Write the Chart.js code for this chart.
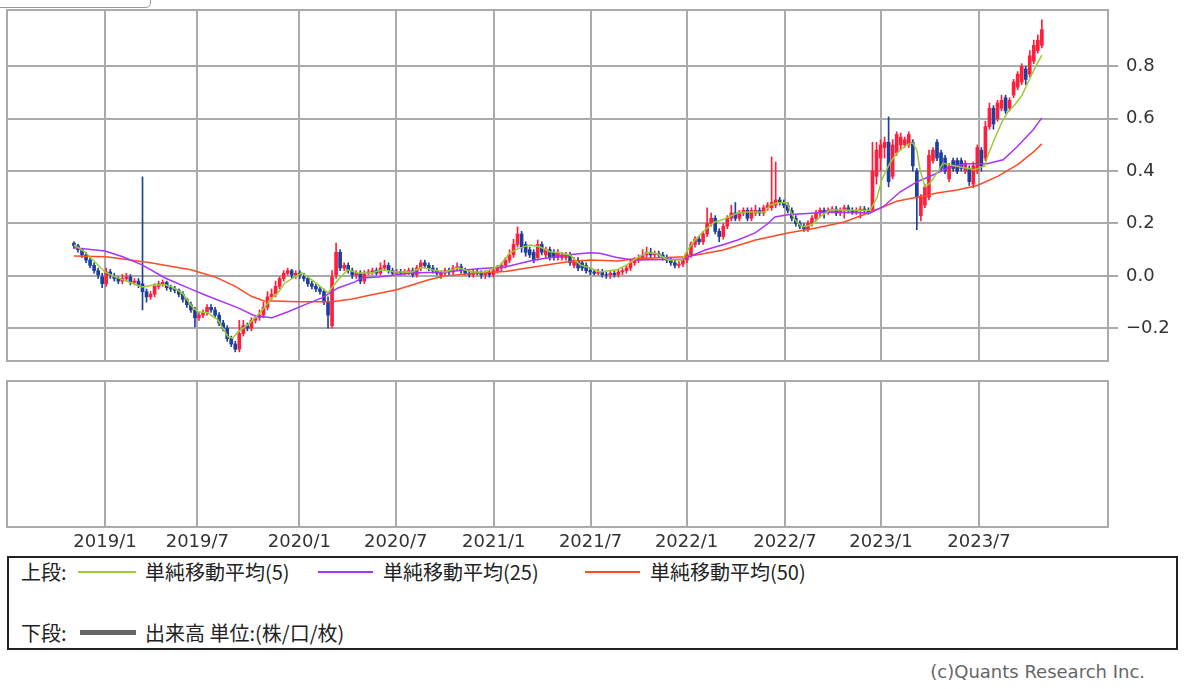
<!DOCTYPE html>
<html lang="ja">
<head>
<meta charset="utf-8">
<script src="https://cdn.jsdelivr.net/npm/chart.js@4.4.0/dist/chart.umd.min.js"></script>
<style>
  body { margin: 0; background: #fff; width: 1200px; height: 689px; overflow: hidden; position: relative; font-family: "DejaVu Sans", sans-serif; }
  #tab { position: absolute; left: -2px; top: -20px; width: 151px; height: 26px; border: 1px solid #999; border-radius: 0 0 5px 0; }
  #priceWrap { position: absolute; left: 0; top: 0; }
  #volWrap { position: absolute; left: 0; top: 372px; }
  #legend { position: absolute; left: 7px; top: 556px; width: 1167px; height: 90px; border: 2px solid #222;
            font-family: "Noto Sans CJK JP", sans-serif; font-size: 20px; color: #222; }
  #legend span { position: absolute; line-height: 24px; white-space: nowrap; }
  #legend i { position: absolute; display: block; }
  #copy { position: absolute; right: 55px; top: 661px; font-size: 18px; color: #666; }
</style>
</head>
<body>
<div id="tab"></div>
<div id="priceWrap"><canvas id="priceChart" width="1200" height="372"></canvas></div>
<div id="volWrap"><canvas id="volChart" width="1200" height="184"></canvas></div>
<div id="legend">
  <span style="left:12px; top:2px;">上段:</span>
  <i style="left:69px; top:13px; width:58px; height:2px; background:#99cc33;"></i>
  <span style="left:136px; top:2px;">単純移動平均(5)</span>
  <i style="left:309px; top:13px; width:55px; height:2px; background:#a633ff;"></i>
  <span style="left:374px; top:2px;">単純移動平均(25)</span>
  <i style="left:576px; top:13px; width:55px; height:2px; background:#ff4a26;"></i>
  <span style="left:641px; top:2px;">単純移動平均(50)</span>
  <span style="left:12px; top:63px;">下段:</span>
  <i style="left:71px; top:72px; width:56px; height:5px; background:#666;"></i>
  <span style="left:136px; top:63px;">出来高 単位:(株/口/枚)</span>
</div>
<div id="copy">(c)Quants Research Inc.</div>
<script>
// candles, one per period, x = index
const opens = [0.125, 0.115, 0.10, 0.08, 0.06, 0.04, 0.02, 0.0, -0.03, 0.015,
  0.0, -0.01, -0.02, -0.01, 0.0, -0.025, -0.02, -0.03, -0.06, -0.08,
  -0.07, -0.04, -0.03, -0.025, -0.045, -0.05, -0.055, -0.07, -0.09, -0.11,
  -0.13, -0.16, -0.15, -0.14, -0.12, -0.13, -0.15, -0.18, -0.2, -0.24,
  -0.26, -0.28, -0.22, -0.19, -0.2, -0.17, -0.16, -0.15, -0.12, -0.08,
  -0.07, -0.04, -0.01, 0.01, 0.02, 0.0, 0.01, 0.0, -0.01, -0.03,
  -0.04, -0.05, -0.06, -0.1, -0.19, 0.0, 0.09, 0.03, 0.04, 0.02,
  0.0, 0.01, -0.02, 0.01, 0.015, 0.02, 0.01, 0.03, 0.04, 0.02,
  0.01, 0.015, 0.01, 0.015, 0.02, 0.005, 0.03, 0.05, 0.04, 0.03,
  0.02, 0.0, 0.01, 0.02, 0.015, 0.03, 0.035, 0.02, 0.01, 0.005,
  0.015, 0.01, 0.0, 0.01, 0.005, 0.02, 0.03, 0.04, 0.06, 0.08,
  0.12, 0.16, 0.12, 0.10, 0.09, 0.07, 0.12, 0.08, 0.10, 0.09,
  0.07, 0.07, 0.07, 0.08, 0.04, 0.06, 0.05, 0.04, 0.02, 0.015,
  0.01, 0.015, 0.005, 0.0, 0.01, 0.005, 0.015, 0.02, 0.03, 0.05,
  0.06, 0.07, 0.08, 0.09, 0.08, 0.085, 0.08, 0.07, 0.06, 0.05,
  0.04, 0.045, 0.06, 0.08, 0.12, 0.14, 0.13, 0.16, 0.2, 0.22,
  0.17, 0.15, 0.19, 0.22, 0.24, 0.22, 0.24, 0.25, 0.22, 0.24,
  0.25, 0.24, 0.26, 0.26, 0.27, 0.29, 0.28, 0.27, 0.25, 0.22,
  0.2, 0.19, 0.18, 0.2, 0.22, 0.24, 0.25, 0.245, 0.25, 0.255,
  0.24, 0.25, 0.26, 0.25, 0.245, 0.25, 0.255, 0.25, 0.25, 0.38,
  0.45, 0.49, 0.51, 0.38, 0.47, 0.50, 0.50, 0.50, 0.51, 0.40,
  0.23, 0.27, 0.30, 0.44, 0.51, 0.47, 0.45, 0.37, 0.44, 0.44,
  0.44, 0.40, 0.41, 0.35, 0.40, 0.48, 0.45, 0.57, 0.64, 0.60,
  0.64, 0.68, 0.64, 0.69, 0.72, 0.74, 0.79, 0.77, 0.82, 0.86,
  0.88];
const highs = [0.13, 0.12, 0.105, 0.09, 0.07, 0.05, 0.03, 0.01, 0.03, 0.025,
  0.01, 0.0, 0.005, 0.01, 0.005, -0.01, -0.01, 0.378, -0.05, -0.06,
  -0.03, -0.02, -0.015, -0.02, -0.035, -0.04, -0.05, -0.06, -0.085, -0.1,
  -0.12, -0.14, -0.13, -0.11, -0.11, -0.12, -0.14, -0.17, -0.19, -0.23,
  -0.25, -0.17, -0.17, -0.18, -0.16, -0.15, -0.13, -0.1, -0.06, -0.05,
  -0.02, 0.0, 0.02, 0.03, 0.025, 0.02, 0.02, 0.01, 0.0, -0.02,
  -0.03, -0.04, -0.05, -0.08, 0.02, 0.125, 0.1, 0.05, 0.05, 0.03,
  0.02, 0.02, 0.02, 0.025, 0.03, 0.03, 0.05, 0.06, 0.05, 0.03,
  0.025, 0.025, 0.025, 0.03, 0.03, 0.04, 0.06, 0.06, 0.05, 0.04,
  0.03, 0.02, 0.03, 0.03, 0.04, 0.05, 0.045, 0.03, 0.02, 0.025,
  0.025, 0.02, 0.02, 0.02, 0.03, 0.04, 0.05, 0.07, 0.1, 0.14,
  0.187, 0.17, 0.13, 0.11, 0.1, 0.137, 0.13, 0.11, 0.11, 0.1,
  0.1, 0.09, 0.09, 0.09, 0.07, 0.07, 0.06, 0.05, 0.03, 0.025,
  0.025, 0.025, 0.015, 0.02, 0.02, 0.025, 0.03, 0.04, 0.06, 0.07,
  0.08, 0.1, 0.11, 0.105, 0.095, 0.095, 0.09, 0.08, 0.07, 0.06,
  0.055, 0.07, 0.09, 0.13, 0.15, 0.15, 0.17, 0.26, 0.24, 0.23,
  0.18, 0.2, 0.23, 0.27, 0.28, 0.25, 0.26, 0.26, 0.26, 0.27,
  0.26, 0.27, 0.28, 0.454, 0.435, 0.3, 0.29, 0.28, 0.26, 0.23,
  0.21, 0.2, 0.21, 0.23, 0.25, 0.26, 0.26, 0.26, 0.265, 0.265,
  0.26, 0.27, 0.27, 0.26, 0.26, 0.265, 0.265, 0.26, 0.51, 0.51,
  0.52, 0.53, 0.607, 0.52, 0.55, 0.545, 0.53, 0.55, 0.52, 0.41,
  0.31, 0.35, 0.48, 0.49, 0.52, 0.48, 0.46, 0.43, 0.45, 0.45,
  0.45, 0.44, 0.42, 0.435, 0.50, 0.49, 0.59, 0.66, 0.65, 0.67,
  0.69, 0.69, 0.68, 0.75, 0.78, 0.81, 0.80, 0.86, 0.90, 0.92,
  0.977];
const lows = [0.105, 0.09, 0.07, 0.05, 0.03, 0.01, -0.01, -0.045, -0.04, -0.01,
  -0.02, -0.03, -0.03, -0.02, -0.035, -0.035, -0.045, -0.13, -0.1, -0.09,
  -0.08, -0.05, -0.04, -0.055, -0.06, -0.065, -0.08, -0.1, -0.12, -0.14,
  -0.195, -0.17, -0.16, -0.15, -0.14, -0.16, -0.19, -0.21, -0.25, -0.27,
  -0.29, -0.29, -0.23, -0.21, -0.21, -0.18, -0.17, -0.16, -0.13, -0.09,
  -0.08, -0.05, -0.02, 0.0, -0.01, -0.01, -0.01, -0.02, -0.04, -0.05,
  -0.06, -0.07, -0.11, -0.2, -0.2, -0.01, 0.02, 0.02, 0.01, -0.01,
  -0.01, -0.03, -0.03, 0.0, 0.005, 0.0, 0.0, 0.02, 0.01, 0.0,
  0.0, 0.0, 0.0, 0.005, -0.005, -0.005, 0.02, 0.03, 0.02, 0.01,
  0.0, -0.01, 0.0, 0.005, 0.005, 0.02, 0.01, 0.0, -0.005, -0.005,
  0.0, -0.01, -0.01, -0.005, -0.005, 0.01, 0.02, 0.03, 0.05, 0.07,
  0.11, 0.09, 0.075, 0.07, 0.05, 0.06, 0.08, 0.07, 0.06, 0.06,
  0.06, 0.06, 0.06, 0.04, 0.03, 0.02, 0.02, 0.01, 0.005, 0.0,
  0.0, -0.005, -0.01, -0.01, -0.005, -0.005, 0.005, 0.01, 0.02, 0.04,
  0.05, 0.06, 0.07, 0.07, 0.07, 0.07, 0.06, 0.05, 0.04, 0.03,
  0.03, 0.035, 0.05, 0.07, 0.11, 0.12, 0.12, 0.15, 0.19, 0.16,
  0.13, 0.14, 0.18, 0.21, 0.21, 0.21, 0.23, 0.21, 0.21, 0.23,
  0.23, 0.23, 0.25, 0.25, 0.26, 0.27, 0.26, 0.24, 0.21, 0.19,
  0.18, 0.17, 0.17, 0.19, 0.21, 0.225, 0.22, 0.235, 0.24, 0.23,
  0.23, 0.22, 0.24, 0.235, 0.235, 0.22, 0.24, 0.235, 0.245, 0.35,
  0.40, 0.45, 0.34, 0.37, 0.46, 0.48, 0.49, 0.49, 0.40, 0.176,
  0.21, 0.26, 0.29, 0.43, 0.44, 0.40, 0.39, 0.36, 0.40, 0.39,
  0.40, 0.39, 0.345, 0.336, 0.39, 0.40, 0.44, 0.56, 0.56, 0.59,
  0.63, 0.62, 0.63, 0.68, 0.71, 0.73, 0.73, 0.76, 0.81, 0.85,
  0.87];
const closes = [0.115, 0.10, 0.08, 0.06, 0.04, 0.02, 0.0, -0.03, 0.015, 0.0,
  -0.01, -0.02, -0.01, 0.0, -0.025, -0.02, -0.035, -0.06, -0.08, -0.07,
  -0.04, -0.03, -0.025, -0.045, -0.05, -0.055, -0.07, -0.09, -0.11, -0.13,
  -0.16, -0.15, -0.14, -0.12, -0.13, -0.15, -0.18, -0.2, -0.24, -0.26,
  -0.28, -0.22, -0.19, -0.2, -0.17, -0.16, -0.15, -0.12, -0.08, -0.07,
  -0.04, -0.01, 0.01, 0.02, 0.0, 0.01, 0.0, -0.01, -0.03, -0.04,
  -0.05, -0.06, -0.1, -0.15, 0.0, 0.09, 0.03, 0.04, 0.02, 0.0,
  0.01, -0.02, 0.01, 0.015, 0.02, 0.01, 0.03, 0.04, 0.02, 0.01,
  0.015, 0.01, 0.015, 0.02, 0.005, 0.03, 0.05, 0.04, 0.03, 0.02,
  0.01, 0.01, 0.02, 0.015, 0.03, 0.035, 0.02, 0.01, 0.005, 0.015,
  0.01, 0.0, 0.01, 0.005, 0.02, 0.03, 0.04, 0.06, 0.08, 0.12,
  0.16, 0.11, 0.09, 0.08, 0.06, 0.12, 0.09, 0.10, 0.07, 0.07,
  0.09, 0.08, 0.08, 0.05, 0.06, 0.03, 0.03, 0.02, 0.015, 0.01,
  0.015, 0.005, 0.0, 0.01, 0.005, 0.015, 0.02, 0.03, 0.05, 0.06,
  0.07, 0.08, 0.09, 0.08, 0.085, 0.08, 0.07, 0.06, 0.05, 0.04,
  0.045, 0.06, 0.08, 0.12, 0.14, 0.13, 0.16, 0.2, 0.22, 0.17,
  0.15, 0.19, 0.22, 0.24, 0.22, 0.24, 0.25, 0.22, 0.25, 0.25,
  0.24, 0.26, 0.27, 0.28, 0.29, 0.28, 0.27, 0.25, 0.22, 0.2,
  0.19, 0.18, 0.2, 0.22, 0.24, 0.25, 0.245, 0.25, 0.255, 0.24,
  0.25, 0.26, 0.25, 0.245, 0.25, 0.255, 0.25, 0.245, 0.40, 0.48,
  0.50, 0.51, 0.36, 0.50, 0.54, 0.53, 0.52, 0.54, 0.42, 0.30,
  0.30, 0.34, 0.46, 0.48, 0.45, 0.41, 0.40, 0.42, 0.41, 0.40,
  0.41, 0.43, 0.36, 0.42, 0.49, 0.42, 0.57, 0.64, 0.58, 0.66,
  0.67, 0.63, 0.67, 0.74, 0.77, 0.80, 0.75, 0.84, 0.88, 0.90,
  0.94];

// moving averages (x = candle index)
const ma5Idx = [0, 2.7, 5.2, 7.7, 10.2, 14.4, 16.9, 20.1, 22.6, 24.3, 26.8, 29.3, 30.7, 33.2, 35.7,
  38.2, 39.4, 40.7, 43.1, 45.6, 47.4, 49.1, 50.6, 52.3, 54.8, 56.5, 59, 61.5, 63, 65.5,
  67.9, 70.4, 73.9, 76.4, 79.6, 83.8, 86.3, 88.8, 92, 95.2, 98.7, 101.9, 105.6, 108.1, 110.6,
  113.1, 115.5, 118, 120.5, 123, 125.5, 127.9, 130.4, 134.6, 137.1, 139.6, 142.1, 144.6, 147.3, 150.8,
  152.2, 154, 156.5, 158.9, 160.7, 164.6, 167.1, 171.3, 172.6, 174.6, 176.8, 177.5, 178.8, 180.5, 183,
  185, 187.5, 197.4, 199.1, 200.3, 202.3, 204.1, 206.5, 208, 209, 209.8, 211, 212.3, 214, 215.5,
  219.7, 223.4, 225.9, 226.6, 228.4, 230.1, 231.6, 233.3, 235.1, 236.6, 238.3, 240];
const ma5Val = [0.118, 0.092, 0.053, 0.015, -0.004, -0.027, -0.042, -0.034, -0.034, -0.042, -0.065, -0.118, -0.137, -0.141, -0.168,
  -0.233, -0.237, -0.214, -0.187, -0.149, -0.118, -0.084, -0.065, -0.027, -0.004, 0.011, -0.015, -0.046, -0.065, -0.015,
  0.023, 0.011, 0.011, 0.023, 0.015, 0.015, 0.034, 0.023, 0.015, 0.031, 0.015, 0.015, 0.04, 0.088, 0.107,
  0.118, 0.111, 0.092, 0.088, 0.08, 0.042, 0.031, 0.015, 0.023, 0.042, 0.069, 0.088, 0.085, 0.061, 0.061,
  0.1, 0.137, 0.176, 0.206, 0.214, 0.24, 0.244, 0.244, 0.27, 0.279, 0.279, 0.252, 0.214, 0.187, 0.195,
  0.225, 0.252, 0.25, 0.298, 0.366, 0.43, 0.47, 0.5, 0.508, 0.48, 0.405, 0.34, 0.355, 0.393, 0.43,
  0.416, 0.405, 0.42, 0.46, 0.527, 0.588, 0.626, 0.653, 0.69, 0.74, 0.794, 0.843];

const ma25Idx = [0, 7.7, 12.1, 16.9, 22.6, 28.3, 32.5, 40.7, 44.9, 49.1, 53.1, 57.3, 61.5, 65.5, 69.7,
  71.4, 75.4, 83.8, 92, 100.2, 106.9, 113.8, 122.2, 127.9, 130.4, 134.6, 138.6, 151, 156.5, 160.7,
  164.6, 168.9, 172.1, 173.8, 177, 183.7, 186.7, 197.4, 200.6, 204.8, 209, 213, 217.2, 221.4, 226.4,
  230.4, 233.8, 237.8, 240];
const ma25Val = [0.107, 0.095, 0.073, 0.042, -0.008, -0.046, -0.073, -0.122, -0.153, -0.16, -0.137, -0.11, -0.084, -0.046, -0.023,
  -0.008, -0.004, 0.011, 0.015, 0.027, 0.034, 0.06, 0.08, 0.088, 0.086, 0.07, 0.061, 0.063, 0.099, 0.118,
  0.137, 0.164, 0.2, 0.225, 0.233, 0.24, 0.244, 0.24, 0.263, 0.32, 0.359, 0.385, 0.416, 0.428, 0.428,
  0.443, 0.492, 0.557, 0.603];

const ma50Idx = [0, 8, 14, 19, 25, 29, 35, 40, 44, 47, 56, 64, 69, 73, 80, 88, 92, 100, 107, 114,
  122, 128, 135, 139, 145, 152, 161, 169, 177, 184, 191, 197, 204, 209, 214, 219, 224, 229, 234, 238, 240];
const ma50Val = [0.076, 0.073, 0.061, 0.05, 0.034, 0.023, -0.004, -0.04, -0.078, -0.095, -0.099, -0.099, -0.088, -0.075, -0.053, -0.015, 0.0, 0.011, 0.017, 0.034,
  0.053, 0.061, 0.057, 0.065, 0.069, 0.073, 0.099, 0.137, 0.164, 0.183, 0.206, 0.24, 0.285, 0.3, 0.316, 0.328, 0.345, 0.38, 0.425, 0.474, 0.504];

// x-axis labels and where they fall on the candle index
const tickLabels = ['2019/1', '2019/7', '2020/1', '2020/7', '2021/1', '2021/7', '2022/1', '2022/7', '2023/1', '2023/7'];
const tickIdx = [7.7, 30.6, 55.9, 79.8, 104.1, 128.1, 151.9, 176.3, 200.1, 224.4];
const yTicks = [-0.2, 0, 0.2, 0.4, 0.6, 0.8];

const X_MIN = -16.6, X_MAX = 256.4;
const GRID = '#aaaaaa';
const UP = '#ff1f3a', DOWN = '#1f3f9f';
const axisFont = { family: 'DejaVu Sans', size: 18 };

const framePlugin = {
    id: 'frame',
    beforeDatasetsDraw(chart) {
        const a = chart.chartArea, c = chart.ctx;
        c.save();
        c.strokeStyle = GRID;
        c.lineWidth = 2;
        c.strokeRect(a.left, a.top, a.right - a.left, a.bottom - a.top);
        c.restore();
    }
};

const candleColor = ctx => closes[ctx.dataIndex] >= opens[ctx.dataIndex] ? UP : DOWN;
const toPts = (xs, ys) => xs.map((x, k) => ({ x: x, y: ys[k] }));

const xGrid = { color: GRID, lineWidth: 2, drawTicks: false, offset: false };

new Chart(document.getElementById('priceChart'), {
    type: 'bar',
    data: {
        datasets: [
            { type: 'line', label: '単純移動平均(5)', data: toPts(ma5Idx, ma5Val), borderColor: '#99cc33', borderWidth: 1.5, pointRadius: 0, order: 0 },
            { type: 'line', label: '単純移動平均(25)', data: toPts(ma25Idx, ma25Val), borderColor: '#a633ff', borderWidth: 1.5, pointRadius: 0, order: 0 },
            { type: 'line', label: '単純移動平均(50)', data: toPts(ma50Idx, ma50Val), borderColor: '#ff4a26', borderWidth: 1.5, pointRadius: 0, order: 0 },
            { label: 'body', data: opens.map((o, i) => ({ x: i, y: [o, closes[i]] })), backgroundColor: candleColor, barThickness: 3, grouped: false, order: 1 },
            { label: 'wick', data: lows.map((l, i) => ({ x: i, y: [l, highs[i]] })), backgroundColor: candleColor, barThickness: 1, grouped: false, order: 2 }
        ]
    },
    options: {
        responsive: false,
        animation: false,
        layout: { padding: { left: 7, top: 10, right: 0, bottom: 0 } },
        plugins: { legend: { display: false }, tooltip: { enabled: false } },
        scales: {
            x: {
                type: 'linear', min: X_MIN, max: X_MAX, offset: false,
                afterBuildTicks: s => { s.ticks = tickIdx.map(v => ({ value: v })); },
                afterFit: s => { s.height = 11; s.paddingLeft = 0; s.paddingRight = 0; },
                grid: xGrid, border: { display: false },
                ticks: { display: false }
            },
            y: {
                position: 'right', min: -0.325, max: 1.015,
                afterBuildTicks: s => { s.ticks = yTicks.map(v => ({ value: v })); },
                afterFit: s => { s.width = 92; s.paddingTop = 0; s.paddingBottom = 0; },
                grid: { color: GRID, lineWidth: 2, tickLength: 10 },
                border: { display: false },
                ticks: {
                    padding: 8, color: '#333', font: axisFont,
                    callback: v => (v < -0.001 ? '\u2212' : '') + Math.abs(v).toFixed(1)
                }
            }
        }
    },
    plugins: [framePlugin]
});

// lower panel: volume (no bars in the picture)
new Chart(document.getElementById('volChart'), {
    type: 'bar',
    data: { datasets: [{ label: '出来高', data: [], backgroundColor: '#666' }] },
    options: {
        responsive: false,
        animation: false,
        layout: { padding: { left: 7, top: 9, right: 92, bottom: 0 } },
        plugins: { legend: { display: false }, tooltip: { enabled: false } },
        scales: {
            x: {
                type: 'linear', min: X_MIN, max: X_MAX, offset: false,
                afterBuildTicks: s => { s.ticks = tickIdx.map(v => ({ value: v })); },
                afterFit: s => { s.height = 29; s.paddingLeft = 0; s.paddingRight = 0; },
                grid: xGrid, border: { display: false },
                ticks: { autoSkip: false, maxRotation: 0, padding: 5, color: '#333', font: axisFont,
                         callback: (v, i) => tickLabels[i] }
            },
            y: { display: false, min: 0, max: 1 }
        }
    },
    plugins: [framePlugin]
});
</script>
</body>
</html>
